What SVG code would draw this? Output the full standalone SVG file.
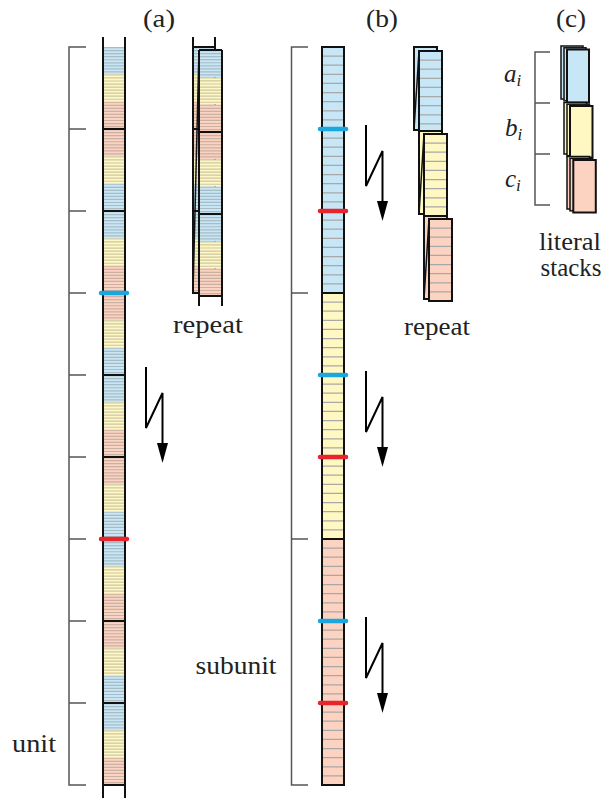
<svg xmlns="http://www.w3.org/2000/svg" width="614" height="798" viewBox="0 0 614 798">
<style>
.tx{font-family:'Liberation Serif',serif;font-size:25px;fill:#222}
.it{font-style:italic}
.br{fill:none;stroke:#555;stroke-width:1.5}
.edge{stroke:#111;stroke-width:2;fill:none}
.thin{stroke:#111;stroke-width:1.5;fill:none}
.seg{stroke:#111;stroke-width:1.8}
.mb{stroke:#1aa6df;stroke-width:4.5;stroke-linecap:round}
.mr{stroke:#e8242c;stroke-width:4.5;stroke-linecap:round}
.arr{fill:none;stroke:#000;stroke-width:2}
.ah{fill:#000}
.cb{fill:#c7e6f6}
.cy{fill:#fff8c2}
.cs{fill:#fcd3c1}
.stA{stroke:#7a7a7a;stroke-opacity:0.38;stroke-dasharray:1.2 1.837;fill:none}
.lnB{stroke:#a8a8a8;stroke-dasharray:1.3 7.8111;stroke-dashoffset:0.65;fill:none}
</style>
<defs>
<pattern id="colA" patternUnits="userSpaceOnUse" x="0" y="47" width="30" height="164">
<rect width="30" height="27.33" fill="#c7e6f6"/>
<rect y="27.33" width="30" height="27.34" fill="#fff8c2"/>
<rect y="54.67" width="30" height="54.66" fill="#fcd3c1"/>
<rect y="109.33" width="30" height="27.34" fill="#fff8c2"/>
<rect y="136.67" width="30" height="27.33" fill="#c7e6f6"/>
</pattern>
</defs>

<g id="connectors">
<g id="arrow-a">
<path class="arr" d="M146,367 V428 L162.5,393 V446"/>
<polygon class="ah" points="157,443 168,443 162.5,463"/>
</g>
<g id="arrow-b1" transform="translate(220,-242)">
<path class="arr" d="M146,367 V428 L162.5,393 V446"/>
<polygon class="ah" points="157,443 168,443 162.5,463"/>
</g>
<g id="arrow-b2" transform="translate(220,4)">
<path class="arr" d="M146,367 V428 L162.5,393 V446"/>
<polygon class="ah" points="157,443 168,443 162.5,463"/>
</g>
<g id="arrow-b3" transform="translate(220,250)">
<path class="arr" d="M146,367 V428 L162.5,393 V446"/>
<polygon class="ah" points="157,443 168,443 162.5,463"/>
</g>
</g>

<g id="labels">
<text class="tx" x="159" y="27" text-anchor="middle" textLength="32" lengthAdjust="spacingAndGlyphs">(a)</text>
<text class="tx" x="382" y="27" text-anchor="middle" textLength="32" lengthAdjust="spacingAndGlyphs">(b)</text>
<text class="tx" x="571" y="27" text-anchor="middle" textLength="30" lengthAdjust="spacingAndGlyphs">(c)</text>
</g>

<g id="unit-bracket">
<path class="br" d="M86,47 H69 V785 H86 M69,129 H86 M69,211 H86 M69,293 H86 M69,375 H86 M69,457 H86 M69,539 H86 M69,621 H86 M69,703 H86"/>
<text class="tx" x="34" y="752" text-anchor="middle" textLength="44" lengthAdjust="spacingAndGlyphs">unit</text>
</g>

<g id="column-a">
<rect x="103" y="47" width="22" height="738" fill="url(#colA)"/>
<line class="stA" x1="114" y1="47" x2="114" y2="785" stroke-width="22"/>
<path class="seg" d="M103,129 H125 M103,211 H125 M103,375 H125 M103,457 H125 M103,621 H125 M103,703 H125 M103,785 H125"/>
<path class="edge" d="M103,37 V798 M125,37 V798"/>
<line class="mb" x1="101" y1="293" x2="127" y2="293"/>
<line class="mr" x1="101" y1="539" x2="127" y2="539"/>
</g>

<g id="repeat-a">
<g transform="translate(90,0)">
<rect x="103" y="47" width="22" height="246" fill="url(#colA)"/>
<line class="stA" x1="114" y1="47" x2="114" y2="293" stroke-width="22"/>
<path class="seg" d="M103,129 H125 M103,211 H125"/>
<path class="edge" d="M103,37 V293 H125 V47 H103 M125,37 V47"/>
</g>
<g transform="translate(96,3)">
<rect x="103" y="47" width="23" height="246" fill="url(#colA)"/>
<line class="stA" x1="114.5" y1="47" x2="114.5" y2="293" stroke-width="23"/>
<path class="seg" d="M103,129 H126 M103,211 H126"/>
<path class="edge" d="M103,47 H126 M103,293 H126 M103,47 V303 M126,47 V303"/>
</g>
<line class="thin" x1="199" y1="50" x2="193" y2="293"/>
<text class="tx" x="208" y="333" text-anchor="middle" textLength="70" lengthAdjust="spacingAndGlyphs">repeat</text>
</g>

<g id="subunit-bracket">
<path class="br" d="M308,47 H291.5 V785 H308 M291.5,293 H308 M291.5,539 H308"/>
<text class="tx" x="236" y="674" text-anchor="middle" textLength="81" lengthAdjust="spacingAndGlyphs">subunit</text>
</g>

<g id="column-b">
<rect class="cb" x="322" y="47" width="22" height="246"/>
<rect class="cy" x="322" y="293" width="22" height="246"/>
<rect class="cs" x="322" y="539" width="22" height="246"/>
<line class="lnB" x1="333" y1="47" x2="333" y2="785" stroke-width="22"/>
<path class="seg" d="M322,293 H344 M322,539 H344"/>
<rect class="edge" x="322" y="47" width="22" height="738"/>
<line class="mb" x1="320" y1="129" x2="346" y2="129"/>
<line class="mr" x1="320" y1="211" x2="346" y2="211"/>
<line class="mb" x1="320" y1="375" x2="346" y2="375"/>
<line class="mr" x1="320" y1="457" x2="346" y2="457"/>
<line class="mb" x1="320" y1="621" x2="346" y2="621"/>
<line class="mr" x1="320" y1="703" x2="346" y2="703"/>
</g>

<g id="repeat-b">
<g id="stack-b-blue">
<rect class="cb edge" x="414" y="47" width="23" height="83"/>
<rect class="cb" x="419" y="51" width="23" height="82"/>
<line class="lnB" x1="430.5" y1="51" x2="430.5" y2="133" stroke-width="23"/>
<rect class="edge" x="419" y="51" width="23" height="82"/>
<line class="thin" x1="419" y1="51" x2="414" y2="130"/>
</g>
<g id="stack-b-yellow">
<rect class="cy edge" x="419" y="131" width="23" height="83"/>
<rect class="cy" x="424" y="134" width="23" height="82"/>
<line class="lnB" x1="435.5" y1="134" x2="435.5" y2="216" stroke-width="23"/>
<rect class="edge" x="424" y="134" width="23" height="82"/>
<line class="thin" x1="424" y1="134" x2="419" y2="214"/>
</g>
<g id="stack-b-salmon">
<rect class="cs edge" x="424" y="216" width="23" height="83"/>
<rect class="cs" x="429" y="219" width="23" height="82"/>
<line class="lnB" x1="440.5" y1="219" x2="440.5" y2="301" stroke-width="23"/>
<rect class="edge" x="429" y="219" width="23" height="82"/>
<line class="thin" x1="429" y1="219" x2="424" y2="299"/>
</g>
<text class="tx" x="437" y="335" text-anchor="middle" textLength="66" lengthAdjust="spacingAndGlyphs">repeat</text>
</g>

<g id="literal-stacks">
<path class="br" d="M550,52 H535 V205 H550 M535,103 H550 M535,154 H550"/>
<text class="tx it" x="504" y="82">a<tspan font-size="17" dy="4">i</tspan></text>
<text class="tx it" x="505" y="136">b<tspan font-size="17" dy="4">i</tspan></text>
<text class="tx it" x="505" y="187">c<tspan font-size="17" dy="4">i</tspan></text>
<g id="stack-a">
<rect class="cb thin" x="561" y="46" width="22" height="53"/>
<rect class="cb thin" x="564" y="47.8" width="22" height="53"/>
<rect class="cb edge" x="567" y="49.5" width="22" height="53"/>
</g>
<g id="stack-b">
<rect class="cy thin" x="564" y="102.5" width="22.5" height="51.5"/>
<rect class="cy thin" x="567" y="104.2" width="22.5" height="51.5"/>
<rect class="cy edge" x="570" y="106" width="22.5" height="51.5"/>
</g>
<g id="stack-c">
<rect class="cs thin" x="567" y="156.5" width="22.5" height="52.5"/>
<rect class="cs thin" x="570" y="158.3" width="22.5" height="52.5"/>
<rect class="cs edge" x="573.3" y="160" width="22.5" height="52.5"/>
</g>
<text class="tx" x="570" y="250" text-anchor="middle" textLength="62" lengthAdjust="spacingAndGlyphs">literal</text>
<text class="tx" x="571" y="276" text-anchor="middle" textLength="61" lengthAdjust="spacingAndGlyphs">stacks</text>
</g>
</svg>
